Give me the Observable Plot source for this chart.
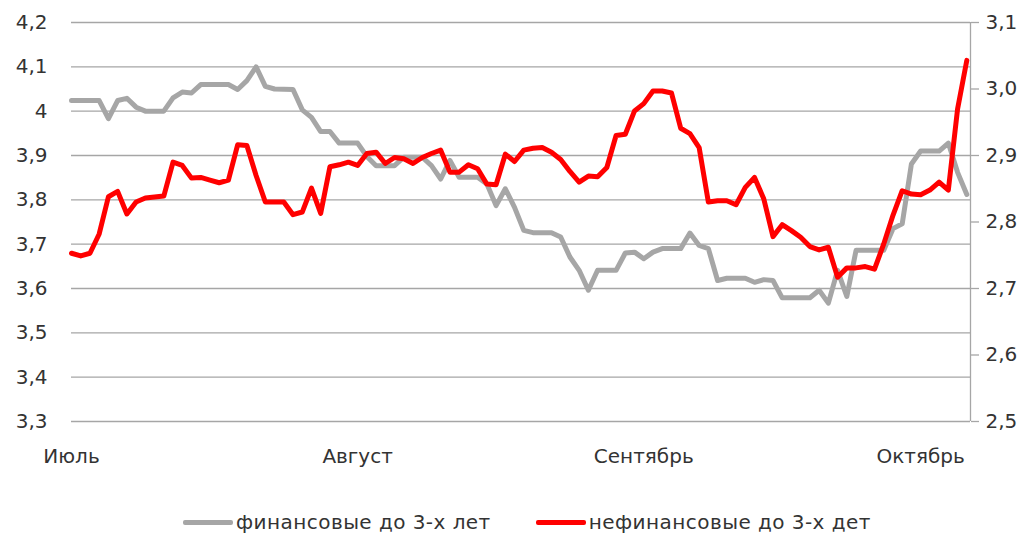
<!DOCTYPE html>
<html><head><meta charset="utf-8">
<script src="https://cdn.jsdelivr.net/npm/d3@7"></script>
<script src="https://cdn.jsdelivr.net/npm/@observablehq/plot@0.6"></script>
<style>
body{margin:0;background:#fff;font-family:"DejaVu Sans",sans-serif;}
#legend{display:flex;align-items:center;padding-top:20px;height:24px;padding-left:183px;font-size:20px;color:#333;letter-spacing:0.45px}
.item{display:flex;align-items:center;margin-right:45px;white-space:nowrap}
.sw{display:inline-block;width:50px;height:5px;margin-right:3px;border-radius:2px}
</style></head><body>
<div id="chart"></div>
<div id="legend"></div>
<script>
// x = days since 1 July (date axis)
const monthLabels = ["Июль", "Август", "Сентябрь", "Октябрь"];
const monthDays = [0, 31, 62, 92];
const leftTicks = [3.3, 3.4, 3.5, 3.6, 3.7, 3.8, 3.9, 4.0, 4.1, 4.2];
const rightTicks = [2.5, 2.6, 2.7, 2.8, 2.9, 3.0, 3.1];
const seriesNames = ["финансовые до 3-х лет", "нефинансовые до 3-х дет"];

// финансовые (left axis)
const finDays = [0,3,4,5,6,7,8,10,11,12,13,14,17,18,19,20,21,22,24,25,26,27,28,29,31,32,33,35,36,38,39,40,41,42,44,45,46,47,48,49,50,52,53,54,55,56,57,59,60,61,62,63,64,66,67,68,69,70,71,73,74,75,76,77,80,81,82,83,84,85,88,89,90,91,92,94,95,96,97];
const finVals = [4.024,4.024,3.983,4.024,4.029,4.009,4.0,4.0,4.03,4.043,4.041,4.06,4.06,4.049,4.069,4.1,4.056,4.05,4.049,4.003,3.986,3.954,3.954,3.928,3.928,3.898,3.877,3.877,3.896,3.896,3.877,3.847,3.889,3.851,3.851,3.836,3.787,3.825,3.783,3.731,3.726,3.726,3.716,3.671,3.641,3.596,3.641,3.641,3.680,3.682,3.667,3.682,3.69,3.69,3.725,3.697,3.69,3.618,3.623,3.623,3.614,3.62,3.618,3.579,3.579,3.596,3.567,3.641,3.582,3.686,3.686,3.735,3.746,3.881,3.910,3.910,3.928,3.862,3.812];

// нефинансовые (right axis)
const nonfinDays = [0,1,2,3,4,5,6,7,8,10,11,12,13,14,15,16,17,18,19,20,21,23,24,25,26,27,28,29,30,31,32,33,34,35,36,37,38,39,40,41,42,43,44,45,46,47,48,49,50,51,52,53,54,55,56,57,58,59,60,61,62,63,64,65,66,67,68,69,70,71,72,73,74,75,76,77,78,79,80,81,82,83,84,85,86,87,88,89,90,91,92,93,94,95,96,97];
const nonfinVals = [2.753,2.749,2.753,2.782,2.838,2.846,2.812,2.830,2.836,2.839,2.890,2.885,2.866,2.867,2.863,2.859,2.863,2.916,2.915,2.870,2.830,2.830,2.811,2.815,2.851,2.813,2.883,2.886,2.890,2.885,2.903,2.905,2.888,2.897,2.895,2.888,2.897,2.903,2.908,2.875,2.875,2.886,2.880,2.857,2.856,2.902,2.891,2.908,2.911,2.912,2.905,2.894,2.876,2.860,2.869,2.868,2.882,2.930,2.932,2.967,2.978,2.997,2.997,2.994,2.941,2.933,2.912,2.830,2.832,2.832,2.826,2.852,2.867,2.835,2.778,2.796,2.787,2.777,2.763,2.758,2.762,2.717,2.731,2.731,2.733,2.729,2.767,2.810,2.847,2.842,2.841,2.848,2.860,2.848,2.970,3.043];

const xMax = 97.4;
const toLeft = v => 3.3 + (v - 2.5) * 1.5;
const fromLeft = v => (v - 3.3) / 1.5 + 2.5;
const fmtLeft = d => String(Math.round(d * 10) / 10).replace(".", ",");
const fmtRight = d => fromLeft(d).toFixed(1).replace(".", ",");

const fin = finDays.map((d, i) => ({x: d, y: finVals[i]}));
const nonfin = nonfinDays.map((d, i) => ({x: d, y: toLeft(nonfinVals[i])}));

const grid = "#a6a6a6";
const chart = Plot.plot({
  width: 1032, height: 490,
  marginLeft: 71, marginRight: 62, marginTop: 22, marginBottom: 69,
  style: {fontFamily: "DejaVu Sans", fontSize: "20px", color: "#333", background: "#fff"},
  x: {domain: [0, xMax]},
  y: {domain: [3.3, 4.2]},
  marks: [
    Plot.ruleY(leftTicks, {stroke: grid, strokeWidth: 1.3}),
    Plot.ruleX([xMax], {y1: 3.3, y2: 4.2, stroke: grid, strokeWidth: 1.3}),
    Plot.axisY({anchor: "left", ticks: leftTicks, tickSize: 0, tickPadding: 24, tickFormat: fmtLeft, label: null}),
    Plot.axisY({anchor: "right", ticks: rightTicks.map(toLeft), tickSize: 8, tickPadding: 7, stroke: grid, strokeWidth: 1.3, tickFormat: fmtRight, label: null}),
    Plot.axisX({ticks: monthDays, tickSize: 0, tickPadding: 27, tickFormat: (d) => monthLabels[monthDays.indexOf(d)], label: null}),
    Plot.line(fin, {x: "x", y: "y", stroke: "#a6a6a6", strokeWidth: 5, strokeLinejoin: "round"}),
    Plot.line(nonfin, {x: "x", y: "y", stroke: "#ff0000", strokeWidth: 5, strokeLinejoin: "round"})
  ]
});
document.getElementById("chart").appendChild(chart);

const colors = ["#a6a6a6", "#ff0000"];
const legend = document.getElementById("legend");
seriesNames.forEach((n, i) => {
  const it = document.createElement("div");
  it.className = "item";
  it.innerHTML = `<span class="sw" style="background:${colors[i]}"></span><span>${n}</span>`;
  legend.appendChild(it);
});
</script>
</body></html>
